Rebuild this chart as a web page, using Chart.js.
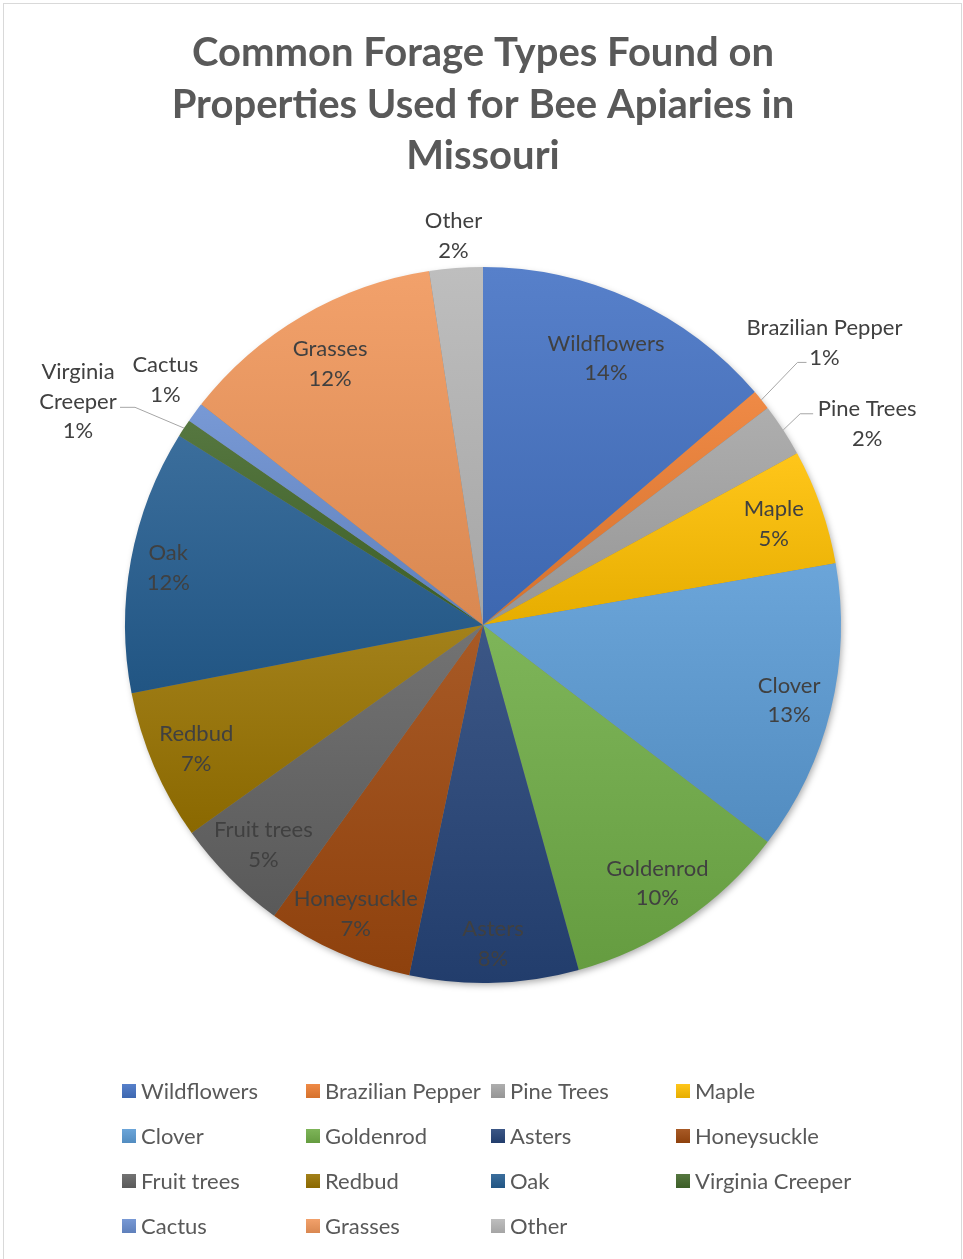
<!DOCTYPE html>
<html>
<head>
<meta charset="utf-8">
<script src="https://cdn.jsdelivr.net/npm/chart.js@4.4.1/dist/chart.umd.min.js"></script>
<style>
  html, body { margin: 0; padding: 0; background: #fff; }
  canvas { display: block; }
</style>
</head>
<body>
<canvas id="chartForage" width="963" height="1259"></canvas>
<script>
// --- dati (quote percentuali stimate) ---
const titleLines = ["Common Forage Types Found on", "Properties Used for Bee Apiaries in", "Missouri"];
const forageTypes = ["Wildflowers", "Brazilian Pepper", "Pine Trees", "Maple", "Clover", "Goldenrod", "Asters",
  "Honeysuckle", "Fruit trees", "Redbud", "Oak", "Virginia Creeper", "Cactus", "Grasses", "Other"];
const forageShare = [13.7, 0.9, 2.4, 5.2, 13.1, 10.3, 7.6, 6.6, 5.2, 6.8, 11.9, 0.8, 0.9, 12.0, 2.4];
const sliceColors = ["#4472C4", "#ED7D31", "#A5A5A5", "#FFC000", "#5B9BD5", "#70AD47", "#264478",
  "#9E480E", "#636363", "#997300", "#255E91", "#43682B", "#698ED0", "#F1975A", "#B7B7B7"];

// etichette esterne: spostamento rispetto al centro della fetta
const outsideLabels = {
  "Brazilian Pepper": { dAngle: -0.7, r: 1.239, lines: ["Brazilian Pepper"], leader: [[-27, 20.5], [-18, 20.5]] },
  "Pine Trees": { dAngle: 5.3, r: 1.212, lines: ["Pine Trees"], leader: [[-67, -9.5], [-54, -9.5]] },
  "Virginia Creeper": { dAngle: -4.4, r: 1.293, lines: ["Virginia", "Creeper"], leader: [[57, 6.5], [42, 6.5]] },
  "Cactus": { dAngle: 1.3, r: 1.122, lines: ["Cactus"] },
  "Other": { dAngle: 0, r: 1.092, lines: ["Other"] }
};

const pieRadius = 358;
const fontFamily = "Lato, 'Open Sans', sans-serif";
const labelSize = 22;
const lineGap = 29.5;

function mix(hex, target, t) {
  const n = parseInt(hex.slice(1), 16);
  const c = [(n >> 16) & 255, (n >> 8) & 255, n & 255].map(v => Math.round(v + (target - v) * t));
  return `rgb(${c[0]},${c[1]},${c[2]})`;
}

function shadeGradient(c, hex, y0, y1) {
  const g = c.createLinearGradient(0, y0, 0, y1);
  g.addColorStop(0, mix(hex, 255, 0.1));
  g.addColorStop(1, mix(hex, 0, 0.1));
  return g;
}

function sliceFill(ctx) {
  const i = ctx.dataIndex;
  const area = ctx.chart.chartArea;
  if (i == null || !area) return sliceColors[i] || "#999";
  const total = forageShare.reduce((a, b) => a + b, 0);
  const before = forageShare.slice(0, i).reduce((a, b) => a + b, 0);
  const a0 = before / total * Math.PI * 2, a1 = (before + forageShare[i]) / total * Math.PI * 2;
  const cy = (area.top + area.bottom) / 2;
  const ys = [cy, cy - pieRadius * Math.cos(a0), cy - pieRadius * Math.cos(a1)];
  if (a0 <= 0.0001) ys.push(cy - pieRadius);
  if (a0 <= Math.PI && a1 >= Math.PI) ys.push(cy + pieRadius);
  return shadeGradient(ctx.chart.ctx, sliceColors[i], Math.min(...ys), Math.max(...ys) + 0.5);
}

const pieDecor = {
  id: "pieDecor",
  beforeDatasetsDraw(chart) {
    const arc = chart.getDatasetMeta(0).data[0];
    const c = chart.ctx;
    c.save();
    c.shadowColor = "rgba(0,0,0,0.35)";
    c.shadowBlur = 7;
    c.shadowOffsetX = 2;
    c.shadowOffsetY = 3;
    c.fillStyle = "#7f7f7f";
    c.beginPath();
    c.arc(arc.x, arc.y, arc.outerRadius - 1, 0, Math.PI * 2);
    c.fill();
    c.restore();
  },
  afterDatasetsDraw(chart) {
    const c = chart.ctx;
    const arcs = chart.getDatasetMeta(0).data;
    const total = forageShare.reduce((a, b) => a + b, 0);
    c.save();
    c.font = `${labelSize}px ${fontFamily}`;
    c.fillStyle = "#404040";
    c.textAlign = "center";
    c.textBaseline = "alphabetic";
    const capOff = labelSize * 0.36;
    arcs.forEach((arc, i) => {
      const name = forageTypes[i];
      const pct = Math.round(forageShare[i] / total * 100) + "%";
      const R = arc.outerRadius;
      const mid = (arc.startAngle + arc.endAngle) / 2;
      const out = outsideLabels[name];
      if (out) {
        const a = mid + out.dAngle * Math.PI / 180;
        const lx = arc.x + R * out.r * Math.cos(a);
        const ly = arc.y + R * out.r * Math.sin(a);
        const lines = out.lines.concat([pct]);
        const top = ly - (lines.length - 1) * lineGap / 2;
        lines.forEach((t, k) => c.fillText(t, lx, top + k * lineGap + capOff));
        if (out.leader) {
          c.strokeStyle = "#a6a6a6";
          c.lineWidth = 1;
          c.beginPath();
          c.moveTo(arc.x + R * Math.cos(mid), arc.y + R * Math.sin(mid));
          out.leader.forEach(p => c.lineTo(lx + p[0], ly + p[1]));
          c.stroke();
        }
        return;
      }
      // posizione "best fit": il più possibile verso il bordo, restando dentro la fetta
      const lines = [name, pct];
      const widths = lines.map(t => c.measureText(t).width);
      const dx = Math.cos(mid), dy = Math.sin(mid);
      let r = R * 0.95;
      for (; r > 0; r -= 1) {
        const cx = dx * r, cy = dy * r;
        let ok = true;
        lines.forEach((t, k) => {
          const yc = cy + (k - 0.5) * lineGap;
          [[-1, -1], [1, -1], [-1, 1], [1, 1]].forEach(s => {
            const px = cx + s[0] * widths[k] / 2, py = yc + s[1] * 11;
            if (Math.hypot(px, py) > R * 0.965) ok = false;
          });
        });
        if (ok) break;
      }
      const lx = arc.x + dx * r, ly = arc.y + dy * r;
      lines.forEach((t, k) => c.fillText(t, lx, ly + (k - 0.5) * lineGap + capOff));
    });
    c.restore();
  },
  afterDraw(chart) {
    const c = chart.ctx;
    c.save();
    // cornice
    c.strokeStyle = "#d9d9d9";
    c.lineWidth = 1;
    c.strokeRect(3.5, 3.5, 958, 1262);
    // titolo
    c.fillStyle = "#595959";
    c.font = `bold 40px ${fontFamily}`;
    c.textAlign = "center";
    c.textBaseline = "alphabetic";
    titleLines.forEach((t, k) => c.fillText(t, 483, 66 + k * 51.5));
    // legenda a griglia 4 colonne
    c.font = `${labelSize}px ${fontFamily}`;
    c.textAlign = "left";
    const colX = [122, 306, 491, 676];
    forageTypes.forEach((name, i) => {
      const x = colX[i % 4], y = 1091 + Math.floor(i / 4) * 45;
      c.fillStyle = shadeGradient(c, sliceColors[i], y - 7, y + 7);
      c.fillRect(x, y - 7, 14, 14);
      c.fillStyle = "#595959";
      c.fillText(name, x + 19, y + labelSize * 0.36);
    });
    c.restore();
  }
};

Chart.defaults.font.family = fontFamily;

const chartForage = new Chart(document.getElementById("chartForage"), {
  type: "pie",
  data: {
    labels: forageTypes,
    datasets: [{
      data: forageShare,
      backgroundColor: sliceFill,
      borderWidth: 0,
      hoverOffset: 0
    }]
  },
  options: {
    responsive: false,
    animation: false,
    devicePixelRatio: 1,
    radius: pieRadius,
    events: [],
    layout: { padding: { left: 125, right: 122, top: 267, bottom: 276 } },
    plugins: { legend: { display: false }, title: { display: false }, tooltip: { enabled: false } }
  },
  plugins: [pieDecor]
});
</script>
</body>
</html>
